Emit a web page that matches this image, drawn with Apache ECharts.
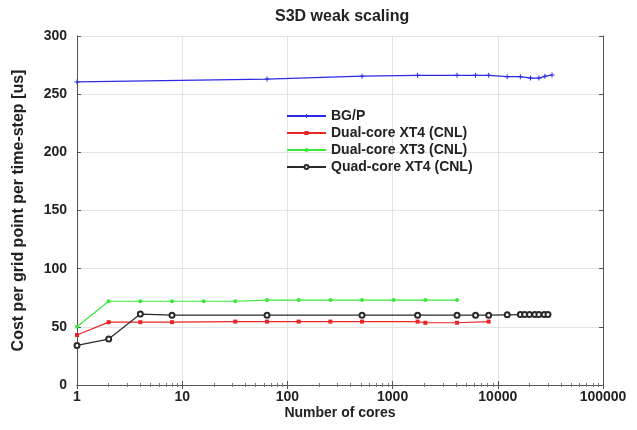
<!DOCTYPE html>
<html>
<head>
<meta charset="utf-8">
<script src="https://cdn.jsdelivr.net/npm/echarts@6/dist/echarts.min.js"></script>
<style>
  html, body { margin: 0; padding: 0; background: #fff; }
  #chart { width: 637px; height: 430px; }
</style>
</head>
<body>
<div id="chart"></div>
<script>
// cores / cost per grid point per time-step [us]
const bgpCores = [1, 64, 512, 1728, 4096, 6144, 8192, 12288, 16384, 20480, 24576, 28000, 32768];
const bgpCost = [260.5, 263, 265.5, 266.2, 266.2, 266.2, 266.2, 265, 265, 263.8, 263.8, 265.3, 266.5];

const xt4Cores = [1, 2, 4, 8, 32, 64, 128, 256, 512, 1728, 2048, 4096, 8192];
const xt4Cost = [43, 54, 54, 54, 54.5, 54.5, 54.5, 54.5, 54.5, 54.5, 53.5, 53.5, 54.5];

const xt3Cores = [1, 2, 4, 8, 16, 32, 64, 128, 256, 512, 1024, 2048, 4096];
const xt3Cost = [50, 72, 72, 72, 72, 72, 73, 73, 73, 73, 73, 73, 73];

const quadCores = [1, 2, 4, 8, 64, 512, 1728, 4096, 6144, 8192, 12288, 16384, 18000, 20000, 22500, 24576, 27648, 30000];
const quadCost = [34, 39.5, 61, 60, 60, 60, 60, 60, 60, 60, 60.3, 60.5, 60.5, 60.5, 60.5, 60.5, 60.5, 60.5];

const xTicks = [1, 10, 100, 1000, 10000, 100000];

const pairs = (xs, ys) => xs.map((x, i) => [x, ys[i]]);

const plusIcon = 'path://M4,0 L6,0 L6,4 L10,4 L10,6 L6,6 L6,10 L4,10 L4,6 L0,6 L0,4 L4,4 Z';
const font = 'Liberation Sans, Arial, sans-serif';
const labelStyle = { fontFamily: font, fontSize: 14, fontWeight: 'bold', color: '#222' };

const myChart = echarts.init(document.getElementById('chart'));

const baseLine = (name, color, data, symbol, size) => ({
  name,
  type: 'line',
  data,
  symbol,
  symbolSize: size,
  showSymbol: true,
  lineStyle: { color, width: 1.2 },
  itemStyle: { color },
  emphasis: { disabled: true },
  animation: false,
});

const option = {
  backgroundColor: '#fff',
  title: {
    text: 'S3D weak scaling',
    left: 270,
    top: 4,
    textStyle: { fontFamily: font, fontSize: 16, fontWeight: 'bold', color: '#222' },
  },
  legend: {
    orient: 'vertical',
    left: 281,
    top: 104,
    itemWidth: 39,
    itemHeight: 5,
    itemGap: 3,
    textStyle: labelStyle,
    data: ['BG/P', 'Dual-core XT4 (CNL)', 'Dual-core XT3 (CNL)', 'Quad-core XT4 (CNL)'],
  },
  grid: { left: 77, right: 34, top: 36, bottom: 45 },
  xAxis: [
    {
      type: 'log',
      logBase: 10,
      min: xTicks[0],
      max: xTicks[xTicks.length - 1],
      name: 'Number of cores',
      nameLocation: 'middle',
      nameGap: 21,
      nameMoveOverlap: false,
      nameTextStyle: labelStyle,
      axisLine: { lineStyle: { color: '#555' } },
      axisTick: { inside: true, length: 4, lineStyle: { color: '#555' } },
      minorTick: { show: true, splitNumber: 9, length: 2, lineStyle: { color: '#777' } },
      axisLabel: Object.assign({}, labelStyle, { margin: 5, formatter: (v) => String(v) }),
      splitLine: { show: true, lineStyle: { color: '#e4e4e4' } },
    },
    {
      type: 'log',
      logBase: 10,
      position: 'top',
      min: xTicks[0],
      max: xTicks[xTicks.length - 1],
      axisLine: { lineStyle: { color: '#555' } },
      axisTick: { inside: true, length: 4, lineStyle: { color: '#555' } },
      minorTick: { show: true, splitNumber: 9, length: 2, lineStyle: { color: '#777' } },
      axisLabel: { show: false },
      splitLine: { show: false },
    },
  ],
  yAxis: [
    {
      type: 'value',
      min: 0,
      max: 300,
      interval: 50,
      name: 'Cost per grid point per time-step [us]',
      nameLocation: 'middle',
      nameGap: 50,
      nameTextStyle: Object.assign({}, labelStyle, { fontSize: 16 }),
      axisLine: { show: true, lineStyle: { color: '#555' } },
      axisTick: { show: true, inside: true, length: 4, lineStyle: { color: '#555' } },
      axisLabel: Object.assign({}, labelStyle, { margin: 10 }),
      splitLine: { show: true, lineStyle: { color: '#e4e4e4' } },
    },
    {
      type: 'value',
      position: 'right',
      min: 0,
      max: 300,
      interval: 50,
      axisLine: { show: true, lineStyle: { color: '#555' } },
      axisTick: { show: true, inside: true, length: 4, lineStyle: { color: '#555' } },
      axisLabel: { show: false },
      splitLine: { show: false },
    },
  ],
  series: [
    baseLine('BG/P', '#2a2ae6', pairs(bgpCores, bgpCost), plusIcon, 5),
    baseLine('Dual-core XT4 (CNL)', '#e82626', pairs(xt4Cores, xt4Cost), 'rect', 4),
    baseLine('Dual-core XT3 (CNL)', '#3ae83a', pairs(xt3Cores, xt3Cost), 'circle', 4),
    baseLine('Quad-core XT4 (CNL)', '#2a2a2a', pairs(quadCores, quadCost), 'emptyCircle', 5),
  ],
};

myChart.setOption(option);
</script>
</body>
</html>
